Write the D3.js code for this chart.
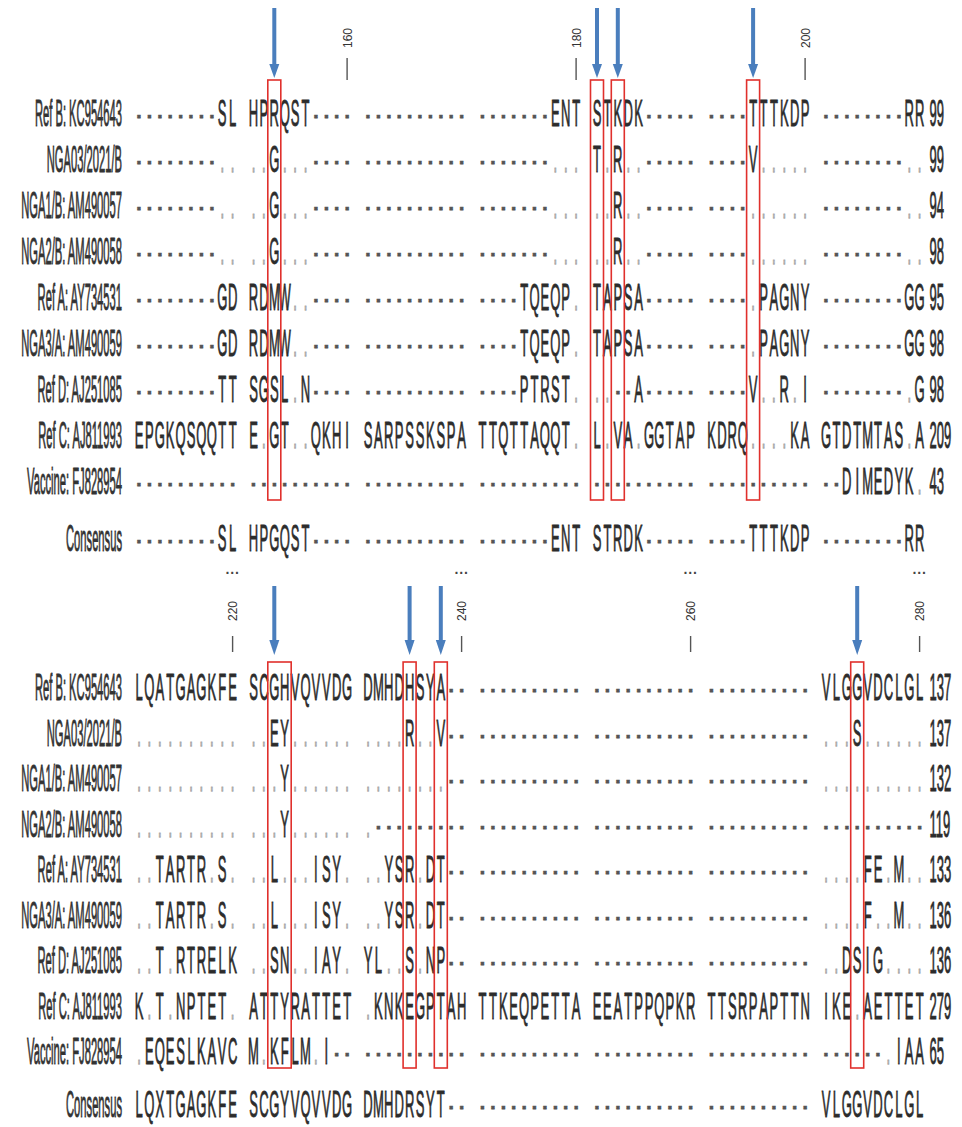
<!DOCTYPE html>
<html><head><meta charset="utf-8">
<script src="https://cdn.jsdelivr.net/npm/d3@7"></script>
<style>body{margin:0;background:#fff}svg{display:block}</style>
</head><body>
<script>
// ---------- data ----------
const names = ["Ref B: KC954643","NGA03/2021/B","NGA1/B: AM490057","NGA2/B: AM490058","Ref A: AY734531","NGA3/A: AM490059","Ref D: AJ251085","Ref C: AJ811993","Vaccine: FJ828954"];
const consensusName = "Consensus";

const topSeqs = [
  "--------SL HPRQST---- ---------- -------ENT STKDK----- ----TTTKDP --------RR",
  "--------.. ..G...---- ---------- -------... T.R..----- ----V..... --------..",
  "--------.. ..G...---- ---------- -------... ..R..----- ----...... --------..",
  "--------.. ..G...---- ---------- -------... ..R..----- ----...... --------..",
  "--------GD RDMW..---- ---------- ----TQEQP. TAPSA----- ----.PAGNY --------GG",
  "--------GD RDMW..---- ---------- ----TQEQP. TAPSA----- ----.PAGNY --------GG",
  "--------TT SGSL.N---- ---------- ----PTRST. ..--A----- ----V..R.I --------.G",
  "EPGKQSQQTT E.GT..QKHI SARPSSKSPA TTQTTAQQT. L.VA.GGTAP KDRQ....KA GTDTMTAS.A",
  "---------- ---------- ---------- ---------- ---------- ---------- --DIMEDYK."
];
const topCounts = [99,99,94,98,95,98,98,209,43];
const topConsensus = "--------SL HPGQST---- ---------- -------ENT STRDK----- ----TTTKDP --------RR";

const bottomSeqs = [
  "LQATGAGKFE SCGHVQVVDG DMHDHSYA-- ---------- ---------- ---------- VLGGVDCLGL",
  ".......... ..EY...... ....R..V-- ---------- ---------- ---------- ...S......",
  ".......... ...Y...... ........-- ---------- ---------- ---------- ..........",
  ".......... ...Y...... .--------- ---------- ---------- ---------- ----------",
  "..TARTR.S. ..L...ISY. ..YSR.DT-- ---------- ---------- ---------- ....FE.M..",
  "..TARTR.S. ..L...ISY. ..YSR.DT-- ---------- ---------- ---------- ....F..M..",
  "..T.RTRELK ..SN..IAY. YL..S.NP-- ---------- ---------- ---------- ..DSIG....",
  "K.T.NPTET. ATTYRATTET .KNKEGPTAH TTKEQPETTA EEATPPQPKR TTSRPAPTTN IKE.AETTET",
  ".EQESLKAVC M.KFLM.I-- ---------- ---------- ---------- ---------- ------.IAA"
];
const bottomCounts = [137,137,132,119,133,136,136,279,65];
const bottomConsensus = "LQXTGAGKFE SCGYVQVVDG DMHDRSYT-- ---------- ---------- ---------- VLGGVDCLGL";

const blockStarts = [141, 211];
const topTicks = [160, 180, 200];
const bottomTicks = [220, 240, 260, 280];
const topBoxes = [[153,153],[181,181],[183,183],[195,195]];
const bottomBoxes = [[223,224],[235,235],[238,238],[274,274]];
const topArrows = [153, 181, 183, 195];
const bottomArrows = [223, 235, 238, 274];

// ---------- layout ----------
const W = 962, H = 1127;
const FONT = "'Liberation Sans', Arial, sans-serif";
const SX = 0.93, SY = 2.6, FS = 14, BASE = 13;

const svg = d3.select("body").append("svg").attr("width", W).attr("height", H)
  .style("font-family", FONT);

const groupX = d3.scaleLinear().domain([0, 6]).range([139, 139 + 6 * 114.5]);
const colX = d3.scaleLinear().domain([0, 9]).range([0, 9 * 10.4]);
function xOf(block, pos) {
  const c = pos - blockStarts[block];
  return groupX(Math.floor(c / 10)) + colX(c % 10);
}

const blocks = [
  { seqs: topSeqs, counts: topCounts, consensus: topConsensus, ticks: topTicks, boxes: topBoxes, arrows: topArrows,
    rowY: d3.scaleLinear().domain([0, 8]).range([113, 481]), consY: 538,
    tickLab: 38, tick: [58, 80], dots: null, box: [80, 500], arrow: [8, 66, 78] },
  { seqs: bottomSeqs, counts: bottomCounts, consensus: bottomConsensus, ticks: bottomTicks, boxes: bottomBoxes, arrows: bottomArrows,
    rowY: d3.scaleLinear().domain([0, 8]).range([687, 1051]), consY: 1104,
    tickLab: 611, tick: [636, 652], dots: 578, box: [662, 1068], arrow: [586, 642, 655] }
];

function stretched(sel, x, y, sx, fill) {
  return sel.attr("transform", `translate(${x},${y + BASE}) scale(${sx},${SY})`)
    .attr("font-size", FS).attr("fill", fill)
    .attr("stroke", fill).attr("stroke-width", 0.35);
}

function drawSeq(g, b, seq, y) {
  const chars = seq.replace(/ /g, "").split("").map((ch, i) => ({ ch, pos: blockStarts[b] + i }));
  g.append("g").selectAll("text").data(chars).join("text")
    .attr("transform", d => `translate(${xOf(b, d.pos)},${y + BASE}) scale(${SX},${SY})`)
    .attr("font-size", FS)
    .attr("text-anchor", "middle")
    .attr("fill", d => d.ch === "." ? "#aaaaaa" : (d.ch === "-" ? "#555" : "#2c2c2c"))
    .attr("stroke", d => d.ch === "." ? "#aaaaaa" : (d.ch === "-" ? "#555" : "#2c2c2c"))
    .attr("stroke-width", d => d.ch === "." ? 0.5 : 0.35)
    .text(d => d.ch);
}

blocks.forEach((B, b) => {
  const g = svg.append("g");

  // ruler ticks
  B.ticks.forEach(t => {
    const x = xOf(b, t);
    g.append("line").attr("x1", x).attr("x2", x).attr("y1", B.tick[0]).attr("y2", B.tick[1])
      .attr("stroke", "#555").attr("stroke-width", 1.4);
    g.append("text").attr("transform", `translate(${x + 4.5},${B.tickLab}) rotate(-90)`)
      .attr("font-size", 12).attr("text-anchor", "middle").attr("fill", "#333").text(t);
    if (B.dots !== null) {
      g.append("text").attr("x", x).attr("y", B.dots).attr("font-size", 14).attr("font-weight", "bold")
        .attr("text-anchor", "middle").attr("fill", "#444").text("···");
    }
  });

  // sequence rows
  B.seqs.forEach((s, i) => {
    const y = B.rowY(i);
    stretched(g.append("text"), 122, y, 0.8, "#333").attr("text-anchor", "end").text(names[i]);
    drawSeq(g, b, s, y);
    const lastX = xOf(b, blockStarts[b] + 69);
    stretched(g.append("text"), lastX + 10, y, SX, "#2c2c2c").attr("text-anchor", "start").text(B.counts[i]);
  });

  // consensus
  stretched(g.append("text"), 122, B.consY, 0.8, "#333").attr("text-anchor", "end").text(consensusName);
  drawSeq(g, b, B.consensus, B.consY);

  // red boxes
  g.append("g").selectAll("rect").data(B.boxes).join("rect")
    .attr("x", d => xOf(b, d[0]) - 6.5)
    .attr("width", d => xOf(b, d[1]) - xOf(b, d[0]) + 13)
    .attr("y", B.box[0]).attr("height", B.box[1] - B.box[0])
    .attr("fill", "none").attr("stroke", "#e0302c").attr("stroke-width", 1.6);

  // blue arrows
  B.arrows.forEach(p => {
    const x = xOf(b, p);
    g.append("rect").attr("x", x - 2).attr("y", B.arrow[0]).attr("width", 4).attr("height", B.arrow[1] - B.arrow[0])
      .attr("fill", "#4a7ebd");
    g.append("path").attr("d", `M${x - 5},${B.arrow[1] - 2}L${x + 5},${B.arrow[1] - 2}L${x},${B.arrow[2]}Z`)
      .attr("fill", "#4a7ebd");
  });
});
</script>
</body></html>
